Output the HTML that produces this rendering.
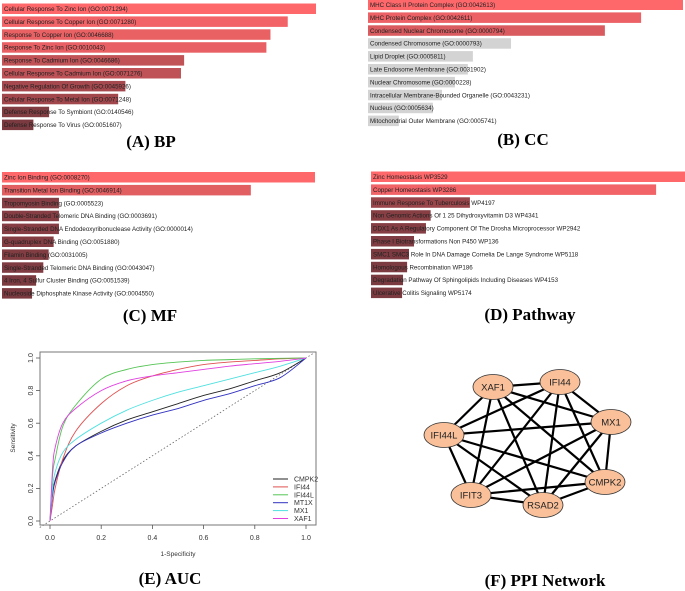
<!DOCTYPE html>
<html><head><meta charset="utf-8">
<style>
html,body{margin:0;padding:0;background:#fff;}
body{width:685px;height:591px;position:relative;overflow:hidden;font-family:"Liberation Sans",sans-serif;}
.title{position:absolute;font-family:"Liberation Serif",serif;font-weight:bold;font-size:17px;color:#000;transform:translateX(-50%);white-space:nowrap;}
</style></head>
<body>
<svg id="bars" width="685" height="591" style="position:absolute;left:0;top:0"></svg>
<svg id="roc" width="685" height="591" style="position:absolute;left:0;top:0"></svg>
<svg id="ppi" width="685" height="591" style="position:absolute;left:0;top:0"></svg>
<div class="title" style="left:151px;top:132px">(A) BP</div>
<div class="title" style="left:523px;top:130px">(B) CC</div>
<div class="title" style="left:150px;top:306px">(C) MF</div>
<div class="title" style="left:530px;top:305px">(D) Pathway</div>
<div class="title" style="left:170px;top:569px">(E) AUC</div>
<div class="title" style="left:545px;top:571px">(F) PPI Network</div>
<script>
const NS="http://www.w3.org/2000/svg";
function mk(parent,tag,attrs){const e=document.createElementNS(NS,tag);for(const k in attrs)e.setAttribute(k,attrs[k]);parent.appendChild(e);return e;}

// ---- Enrichment bar data ----
const bpTerms=["Cellular Response To Zinc Ion (GO:0071294)","Cellular Response To Copper Ion (GO:0071280)","Response To Copper Ion (GO:0046688)","Response To Zinc Ion (GO:0010043)","Response To Cadmium Ion (GO:0046686)","Cellular Response To Cadmium Ion (GO:0071276)","Negative Regulation Of Growth (GO:0045926)","Cellular Response To Metal Ion (GO:0071248)","Defense Response To Symbiont (GO:0140546)","Defense Response To Virus (GO:0051607)"];
const bpValues=[100,91,85.5,84.2,58,57,39.3,37,15,10];
const ccTerms=["MHC Class II Protein Complex (GO:0042613)","MHC Protein Complex (GO:0042611)","Condensed Nuclear Chromosome (GO:0000794)","Condensed Chromosome (GO:0000793)","Lipid Droplet (GO:0005811)","Late Endosome Membrane (GO:0031902)","Nuclear Chromosome (GO:0000228)","Intracellular Membrane-Bounded Organelle (GO:0043231)","Nucleus (GO:0005634)","Mitochondrial Outer Membrane (GO:0005741)"];
const ccValues=[100,86.7,75.2,45.4,33.3,31.7,27.6,23.5,20.6,9.8];
const ccSignificant=[1,1,1,0,0,0,0,0,0,0];
const mfTerms=["Zinc Ion Binding (GO:0008270)","Transition Metal Ion Binding (GO:0046914)","Tropomyosin Binding (GO:0005523)","Double-Stranded Telomeric DNA Binding (GO:0003691)","Single-Stranded DNA Endodeoxyribonuclease Activity (GO:0000014)","G-quadruplex DNA Binding (GO:0051880)","Filamin Binding (GO:0031005)","Single-Stranded Telomeric DNA Binding (GO:0043047)","4 Iron, 4 Sulfur Cluster Binding (GO:0051539)","Nucleoside Diphosphate Kinase Activity (GO:0004550)"];
const mfValues=[100,79.5,18.2,18.2,18.2,16.5,14.9,13.2,10.9,9.6];
const pwTerms=["Zinc Homeostasis WP3529","Copper Homeostasis WP3286","Immune Response To Tuberculosis WP4197","Non Genomic Actions Of 1 25 Dihydroxyvitamin D3 WP4341","DDX1 As A Regulatory Component Of The Drosha Microprocessor WP2942","Phase I Biotransformations Non P450 WP136","SMC1 SMC3 Role In DNA Damage Cornelia De Lange Syndrome WP5118","Homologous Recombination WP186","Degradation Pathway Of Sphingolipids Including Diseases WP4153","Ulcerative Colitis Signaling WP5174"];
const pwValues=[100,90.8,31.5,19,17.5,13.7,12.1,11.5,10.2,9.9];

function lerp(a,b,t){return Math.round(a+(b-a)*t);}
function barColor(v){ // brighter red for higher value
  const t=Math.max(0,Math.min(1,(v-10)/90));
  return `rgb(${lerp(122,255,t)},${lerp(58,104,t)},${lerp(64,107,t)})`;
}
const barSvg=document.getElementById('bars');
function drawBars(name,terms,values,x0,fullW,y0,sig){
  const g=mk(barSvg,'g',{});
  
  
  const step=12.9;
  terms.forEach((t,i)=>{
    const y=y0+i*step;
    const w=fullW*values[i]/100;
    const fill=(sig && !sig[i])?'#d3d3d3':barColor(values[i]);
    const r=mk(g,'rect',{x:x0,y:y-5,width:w,height:10.5,fill:fill});
    
    
    const tx=mk(g,'text',{x:x0+2,y:y+2.5,'font-size':'6.2','font-family':'Liberation Sans, sans-serif',fill:'#222'});
    tx.textContent=t;
    
    
  });
}
drawBars('bp',bpTerms,bpValues,2,314,8.5,null);
drawBars('cc',ccTerms,ccValues,368,315,4.5,ccSignificant);
drawBars('mf',mfTerms,mfValues,2,313,177,null);
drawBars('pathway',pwTerms,pwValues,371,314,176.5,null);

// ---- ROC data ----
const fpr=[0,0.01,0.02,0.05,0.1,0.2,0.3,0.4,0.5,0.6,0.7,0.8,0.9,1.0];
const genes=["CMPK2","IFI44","IFI44L","MT1X","MX1","XAF1"];
const geneColors=["#222222","#e05050","#55c455","#3030c0","#50e0e0","#e040e0"];
const tprCMPK2=[0,0.17,0.25,0.37,0.46,0.55,0.62,0.67,0.72,0.77,0.81,0.86,0.91,1];
const tprIFI44=[0,0.1,0.2,0.38,0.55,0.72,0.83,0.89,0.93,0.96,0.975,0.985,0.995,1];
const tprIFI44L=[0,0.28,0.38,0.58,0.71,0.87,0.93,0.96,0.975,0.985,0.99,0.995,0.998,1];
const tprMT1X=[0,0.16,0.24,0.36,0.46,0.54,0.6,0.65,0.69,0.74,0.78,0.83,0.88,1];
const tprMX1=[0,0.2,0.3,0.42,0.5,0.6,0.68,0.74,0.79,0.83,0.87,0.91,0.95,1];
const tprXAF1=[0,0.32,0.45,0.6,0.69,0.8,0.86,0.89,0.91,0.93,0.95,0.965,0.98,1];
const tprSeries=[tprCMPK2,tprIFI44,tprIFI44L,tprMT1X,tprMX1,tprXAF1];
const xTicks=[0,0.2,0.4,0.6,0.8,1.0];
const xTickLabels=["0.0","0.2","0.4","0.6","0.8","1.0"];
const yTicks=[0,0.2,0.4,0.6,0.8,1.0];
const yTickLabels=["0.0","0.2","0.4","0.6","0.8","1.0"];

const roc=document.getElementById('roc');
const sx=v=>50+v*256, sy=v=>521-v*163;
const frame=mk(roc,'rect',{x:40,y:352,width:276,height:173,fill:'none',stroke:'#777','stroke-width':1});


const diag=mk(roc,'line',{x1:sx(-0.04),y1:sy(-0.04),x2:sx(1.03),y2:sy(1.03),stroke:'#666','stroke-width':0.8,'stroke-dasharray':'1.5,2'});


xTicks.forEach((v,i)=>{
  const l=mk(roc,'line',{x1:sx(v),y1:525,x2:sx(v),y2:529,stroke:'#555','stroke-width':0.8});
  
  
  const t=mk(roc,'text',{x:sx(v),y:540,'font-size':'7','text-anchor':'middle',fill:'#333'});
  t.textContent=xTickLabels[i];
  
  
});
yTicks.forEach((v,i)=>{
  const l=mk(roc,'line',{x1:36,y1:sy(v),x2:40,y2:sy(v),stroke:'#555','stroke-width':0.8});
  
  
  const t=mk(roc,'text',{x:0,y:0,'font-size':'7','text-anchor':'middle',fill:'#333',transform:`translate(33,${sy(v)}) rotate(-90)`});
  t.textContent=yTickLabels[i];
  
  
});
const xt=mk(roc,'text',{x:178,y:556,'font-size':'6.5','text-anchor':'middle',fill:'#333'});
xt.textContent='1-Specificity';


const yt=mk(roc,'text',{x:0,y:0,'font-size':'6.5','text-anchor':'middle',fill:'#333',transform:'translate(15,438) rotate(-90)'});
yt.textContent='Sensitivity';



function smoothPath(pts){
  let d=`M${pts[0][0]},${pts[0][1]}`;
  for(let i=0;i<pts.length-1;i++){
    const p0=pts[Math.max(0,i-1)],p1=pts[i],p2=pts[i+1],p3=pts[Math.min(pts.length-1,i+2)];
    const c1=[p1[0]+(p2[0]-p0[0])/6,p1[1]+(p2[1]-p0[1])/6];
    const c2=[p2[0]-(p3[0]-p1[0])/6,p2[1]-(p3[1]-p1[1])/6];
    d+=` C${c1[0]},${c1[1]} ${c2[0]},${c2[1]} ${p2[0]},${p2[1]}`;
  }
  return d;
}
tprSeries.forEach((s,gi)=>{
  const pts=fpr.map((f,i)=>[sx(f),sy(s[i])]);
  const p=mk(roc,'path',{d:smoothPath(pts),fill:'none',stroke:geneColors[gi],'stroke-width':0.9});
  
  
});
genes.forEach((g,i)=>{
  const y=479+i*7.9;
  const l=mk(roc,'line',{x1:273,y1:y,x2:288,y2:y,stroke:geneColors[i],'stroke-width':1});
  
  
  const t=mk(roc,'text',{x:294,y:y+2.5,'font-size':'7',fill:'#333'});
  t.textContent=g;
  
  
});

// ---- PPI network ----
const nodes=["XAF1","IFI44","MX1","IFI44L","CMPK2","IFIT3","RSAD2"];
const nodeX=[493,560,611,444,605,471,543];
const nodeY=[387,382,422,435,482,495,505];
const ppi=document.getElementById('ppi');
for(let i=0;i<nodes.length;i++)for(let j=i+1;j<nodes.length;j++){
  const e=mk(ppi,'line',{x1:nodeX[i],y1:nodeY[i],x2:nodeX[j],y2:nodeY[j],stroke:'#000','stroke-width':2.2});
  
  
}
nodes.forEach((n,i)=>{
  const el=mk(ppi,'ellipse',{cx:nodeX[i],cy:nodeY[i],rx:20,ry:12.5,fill:'#f9c09a',stroke:'#333','stroke-width':0.8});
  
  
  const t=mk(ppi,'text',{x:nodeX[i],y:nodeY[i]+3.5,'font-size':'9.5','text-anchor':'middle',fill:'#222'});
  t.textContent=n;
  
  
});
</script>
</body></html>
